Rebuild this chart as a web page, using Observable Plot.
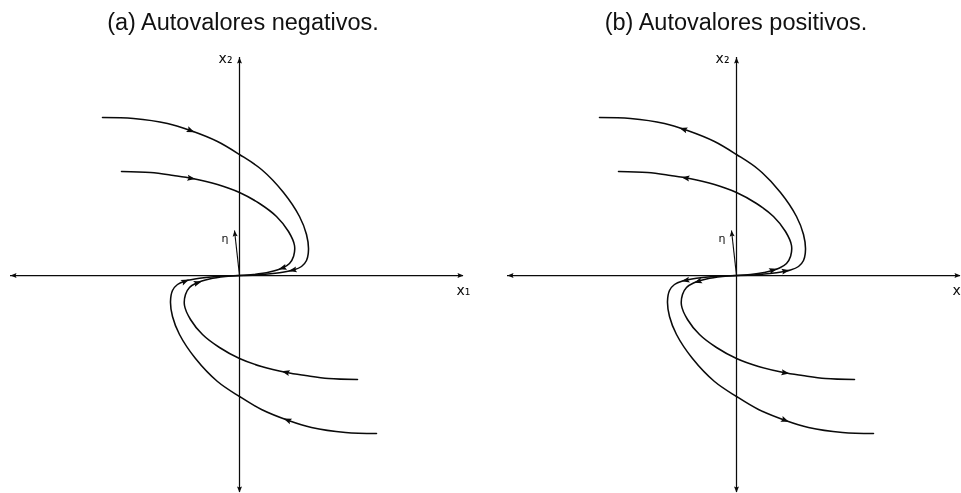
<!DOCTYPE html>
<html>
<head>
<meta charset="utf-8">
<script src="https://cdn.jsdelivr.net/npm/d3@7"></script>
<script src="https://cdn.jsdelivr.net/npm/@observablehq/plot@0.6"></script>
<style>
  html, body { margin: 0; padding: 0; background: #fff; }
  #fig { position: relative; width: 961px; height: 493px; overflow: hidden; background: #fff; filter: grayscale(100%); }
  .title {
    position: absolute; top: 11px; transform: translateX(-50%);
    font-family: "Liberation Sans", Arial, Helvetica, sans-serif;
    font-size: 23.5px; line-height: 23.5px; white-space: nowrap; color: #111;
  }
  .panel { position: absolute; top: 40px; overflow: hidden; background: #fff; }
  .panel svg { max-width: none; }
</style>
</head>
<body>
<div id="fig"></div>
<script>
// Phase-plane trajectories, given as offsets from the origin (x right, y up).
const outerUpperX = [-137, -106, -72, -49, -22, 0, 22, 44, 60, 67, 69, 67, 62, 54, 40, 20, 0];
const outerUpperY = [158, 157, 152, 145, 134, 121, 106, 83, 59, 41, 26, 15, 9, 5.5, 2.8, 0.8, 0];
const innerUpperX = [-118, -89, -66, -47, -22, 0, 20, 37, 49, 55, 54, 50, 43, 30, 14, 0];
const innerUpperY = [104, 103, 100, 97, 91, 83, 72, 59, 44, 30, 19, 12, 7.5, 3.5, 1, 0];
const outerLowerX = [137, 106, 72, 49, 22, 0, -22, -44, -60, -67, -69, -67, -62, -54, -40, -20, 0];
const outerLowerY = [-158, -157, -152, -145, -134, -121, -106, -83, -59, -41, -26, -15, -9, -5.5, -2.8, -0.8, 0];
const innerLowerX = [118, 89, 66, 47, 22, 0, -20, -37, -49, -55, -54, -50, -43, -30, -14, 0];
const innerLowerY = [-104, -103, -100, -97, -91, -83, -72, -59, -44, -30, -19, -12, -7.5, -3.5, -1, 0];

// Axis extents and the generalized eigenvector η
const axisX = [-229, 224];
const axisY = [-217, 218];
const etaTip = [-5, 45];

// Arrowhead locations on each trajectory
const arrowsNegative = [
  {curve: "outerUpper", x: -49, y: 144}, {curve: "outerUpper", x: 53, y: 6},
  {curve: "innerUpper", x: -48, y: 98},  {curve: "innerUpper", x: 43, y: 7},
  {curve: "outerLower", x: 48, y: -144}, {curve: "outerLower", x: -54, y: -6},
  {curve: "innerLower", x: 46, y: -97},  {curve: "innerLower", x: -42, y: -6}
];
const arrowsPositive = [
  {curve: "outerUpper", x: -54, y: 144}, {curve: "outerUpper", x: 49, y: 6},
  {curve: "innerUpper", x: -51, y: 98},  {curve: "innerUpper", x: 37, y: 5},
  {curve: "outerLower", x: 49, y: -144}, {curve: "outerLower", x: -51, y: -5},
  {curve: "innerLower", x: 49, y: -97},  {curve: "innerLower", x: -39, y: -5}
];

const titles = ["(a) Autovalores negativos.", "(b) Autovalores positivos."];
const xAxisLabels = ["x\u2081", "x"];
const yAxisLabel = "x\u2082";
const etaLabel = "\u03b7";

const curves = {
  outerUpper: [outerUpperX, outerUpperY],
  innerUpper: [innerUpperX, innerUpperY],
  outerLower: [outerLowerX, outerLowerY],
  innerLower: [innerLowerX, innerLowerY]
};
const curveRows = Object.entries(curves).flatMap(([name, [xs, ys]]) =>
  xs.map((x, i) => ({curve: name, x, y: ys[i]}))
);

// Flow arrowheads are centred on their anchor; axis heads have the tip on it.
const curveHead = {
  draw(ctx) {
    ctx.moveTo(0, -4); ctx.lineTo(3, 4); ctx.lineTo(0, 2.6); ctx.lineTo(-3, 4); ctx.closePath();
  }
};
const axisHead = {
  draw(ctx) {
    ctx.moveTo(0, 0); ctx.lineTo(2.5, 6); ctx.lineTo(0, 5); ctx.lineTo(-2.5, 6); ctx.closePath();
  }
};

// Snap an arrow onto its trajectory and orient it along the flow.
function placeArrow(spec, reverse) {
  const [xs, ys] = curves[spec.curve];
  let best = null;
  for (let i = 0; i < xs.length - 1; ++i) {
    const ax = xs[i], ay = ys[i], bx = xs[i + 1], by = ys[i + 1];
    const dx = bx - ax, dy = by - ay;
    const len2 = dx * dx + dy * dy || 1;
    const t = Math.max(0, Math.min(1, ((spec.x - ax) * dx + (spec.y - ay) * dy) / len2));
    const px = ax + t * dx, py = ay + t * dy;
    const d = (px - spec.x) ** 2 + (py - spec.y) ** 2;
    if (!best || d < best.d) best = {d, x: px, y: py, dx, dy};
  }
  const s = reverse ? -1 : 1;
  return {x: best.x, y: best.y, rotate: Math.atan2(s * best.dx, s * best.dy) * 180 / Math.PI};
}

const H = 453;        // svg height
const yTop = 235;     // y offset shown at the top edge of the svg
const ink = "#0a0a0a";

function panel(width, arrows, reverse, xLabel, xLabelX) {
  const heads = arrows.map((a) => placeArrow(a, reverse));
  const axisEnds = [
    {x: axisX[1], y: 0, rotate: 90}, {x: axisX[0], y: 0, rotate: -90},
    {x: 0, y: axisY[1], rotate: 0},  {x: 0, y: axisY[0], rotate: 180}
  ];
  const etaHead = [{x: etaTip[0], y: etaTip[1], rotate: Math.atan2(etaTip[0], etaTip[1]) * 180 / Math.PI}];
  return Plot.plot({
    width, height: H, margin: 0,
    style: {background: "#fff", overflow: "visible"},
    x: {domain: [-239, width - 239], range: [0, width], axis: null},
    y: {domain: [yTop - H, yTop], range: [H, 0], axis: null},
    marks: [
      Plot.ruleY([0], {x1: axisX[0], x2: axisX[1], stroke: ink, strokeWidth: 1.25}),
      Plot.ruleX([0], {y1: axisY[0], y2: axisY[1], stroke: ink, strokeWidth: 1.25}),
      Plot.dot(axisEnds, {x: "x", y: "y", rotate: "rotate", symbol: axisHead, fill: ink, stroke: "none"}),
      Plot.line(curveRows, {x: "x", y: "y", z: "curve", curve: "catmull-rom", stroke: ink, strokeWidth: 1.55}),
      Plot.dot(heads, {x: "x", y: "y", rotate: "rotate", symbol: curveHead, fill: ink, stroke: "none"}),
      Plot.link([etaTip], {x1: 0, y1: 0, x2: (d) => d[0], y2: (d) => d[1], stroke: ink, strokeWidth: 1.1}),
      Plot.dot(etaHead, {x: "x", y: "y", rotate: "rotate", symbol: axisHead, fill: ink, stroke: "none"}),
      Plot.text([etaLabel], {x: -14.5, y: 37, text: (d) => d, fontSize: 11, fontFamily: "DejaVu Sans", fill: ink, stroke: "none"}),
      Plot.text([yAxisLabel], {x: -7, y: 217, text: (d) => d, textAnchor: "end", fontSize: 14, fontFamily: "DejaVu Sans", fill: ink}),
      Plot.text([xLabel], {x: xLabelX, y: -15, text: (d) => d, textAnchor: "start", fontSize: 14, fontFamily: "DejaVu Sans", fill: ink})
    ]
  });
}

const fig = document.getElementById("fig");
const layout = [
  {left: 0, width: 497, title: titles[0], titleX: 243, arrows: arrowsNegative, reverse: false, xLabel: xAxisLabels[0], xLabelX: 217},
  {left: 497, width: 464, title: titles[1], titleX: 736, arrows: arrowsPositive, reverse: true, xLabel: xAxisLabels[1], xLabelX: 216}
];
for (const p of layout) {
  const t = document.createElement("div");
  t.className = "title";
  t.style.left = p.titleX + "px";
  t.textContent = p.title;
  fig.appendChild(t);
  const box = document.createElement("div");
  box.className = "panel";
  box.style.left = p.left + "px";
  box.style.width = p.width + "px";
  box.style.height = H + "px";
  box.appendChild(panel(p.width, p.arrows, p.reverse, p.xLabel, p.xLabelX));
  fig.appendChild(box);
}
</script>
</body>
</html>
